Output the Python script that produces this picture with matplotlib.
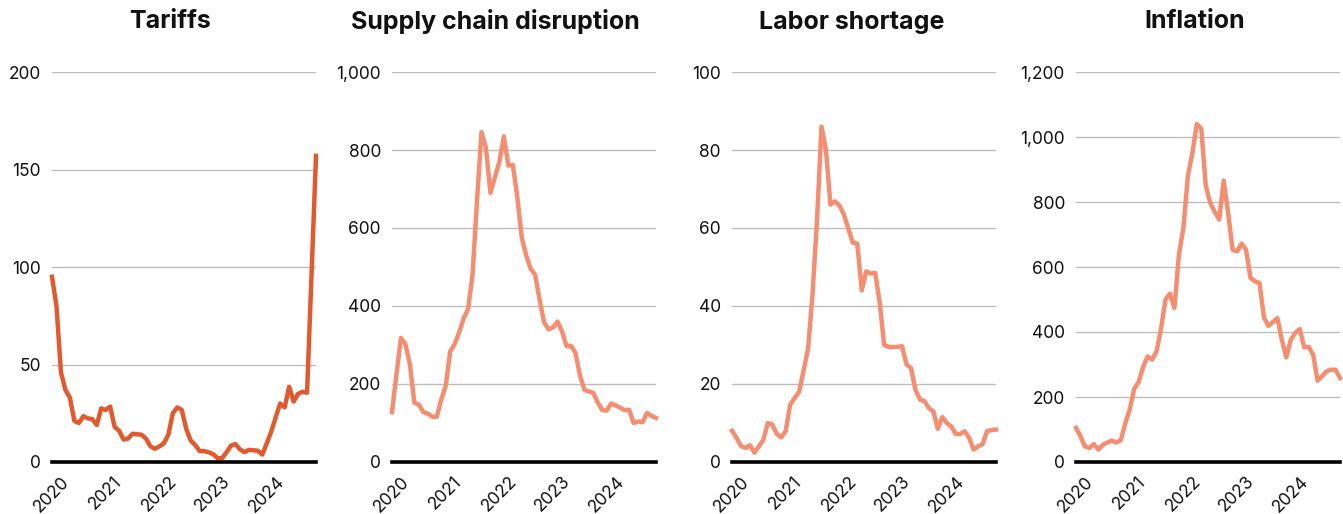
import matplotlib
matplotlib.use("Agg")
import matplotlib.pyplot as plt
from matplotlib.ticker import FuncFormatter

plt.rcParams['font.family'] = ['Inter', 'DejaVu Sans']

# monthly values, Jan 2020 .. Dec 2024
tariffs = [95, 80, 46, 37, 33, 21, 20, 23.5, 22.4, 22, 19, 27.5, 26.7, 28.4, 18, 16,
           11.5, 12, 14.5, 14.2, 14, 12, 8, 6.8, 8, 9.6, 14, 25, 28, 26.7, 17, 11,
           8.7, 5.6, 5.6, 5, 4, 2, 1.9, 5, 8.4, 9.2, 6.5, 5.1, 6.2, 6, 5.8, 3.8,
           9.6, 15.6, 23, 30, 28, 38.6, 31, 35, 36, 35.5, 96, 157]
supply_chain = [128, 225, 318, 302, 250, 152, 147, 128, 124, 116, 116, 160, 195, 283, 302, 332,
                368, 392, 480, 670, 846, 805, 690, 730, 770, 835, 760, 762, 680, 575, 530, 495,
                480, 415, 358, 340, 345, 360, 335, 297, 298, 280, 222, 185, 181, 177, 152, 133,
                132, 150, 145, 139, 133, 134, 100, 104, 102, 126, 118, 113]
labor = [8, 6.2, 4.1, 3.6, 4.3, 2.4, 4.0, 5.7, 10, 9.6, 7.2, 6.3, 7.9, 14.7, 16.4, 18,
         23.5, 29, 43, 62, 86, 80, 66, 66.8, 65.8, 63.5, 59.8, 56.2, 56, 44, 48.9, 48.3,
         48.5, 41, 30, 29.5, 29.5, 29.5, 29.7, 25, 24.1, 18.5, 16, 15.6, 13.8, 13, 8.5, 11.5,
         10, 9.1, 7.2, 7.2, 7.9, 6.2, 3.2, 4.0, 4.6, 7.9, 8.2, 8.3]
inflation = [105, 79, 48, 43, 55, 38, 53, 60, 66, 60, 67, 118, 162, 225, 246, 292,
             325, 315, 340, 410, 500, 518, 474, 638, 720, 880, 950, 1040, 1025, 850, 797, 770,
             746, 866, 766, 653, 648, 672, 653, 566, 556, 551, 445, 419, 430, 443, 376, 322,
             376, 397, 409, 353, 354, 330, 250, 264, 279, 284, 284, 258]

titles = ["Tariffs", "Supply chain disruption", "Labor shortage", "Inflation"]
series = [tariffs, supply_chain, labor, inflation]
colors = ["#E15A2E", "#F58D70", "#F58D70", "#F58D70"]
y_max = [200, 1000, 100, 1200]
y_step = [50, 200, 20, 200]
year_labels = ["2020", "2021", "2022", "2023", "2024"]

months = list(range(len(tariffs)))

W, H = 1343, 514
fig = plt.figure(figsize=(W / 100, H / 100), dpi=100)

lefts = [52, 392, 732, 1076]
title_x = [170, 495, 852, 1195]
width = 264
bottom_px, top_px = 462, 72

for i in range(4):
    ax = fig.add_axes([lefts[i] / W, (H - bottom_px) / H, width / W, (bottom_px - top_px) / H])
    ax.plot(months, series[i], color=colors[i], lw=3.2, solid_joinstyle='round', clip_on=False, zorder=3)
    ax.set_xlim(0, len(months) - 1)
    ax.set_ylim(0, y_max[i])
    ticks = list(range(0, y_max[i] + 1, y_step[i]))
    ax.set_yticks(ticks)
    ax.yaxis.set_major_formatter(FuncFormatter(lambda v, p: '{:,.0f}'.format(v)))
    ax.grid(axis='y', color='#BDBDBD', lw=1)
    ax.set_axisbelow(True)
    for s in ['top', 'right', 'left']:
        ax.spines[s].set_visible(False)
    ax.spines['bottom'].set_color('black')
    ax.spines['bottom'].set_linewidth(2.6)
    ax.spines['bottom'].set_zorder(4)
    ax.set_xticks([0, 12, 24, 36, 48])
    ax.set_xticklabels(year_labels, rotation=45, ha='center', va='top')
    ax.tick_params(axis='both', length=0, labelsize=12.5, colors='#111111')
    ax.tick_params(axis='y', pad=8)
    ax.tick_params(axis='x', pad=8)
    fig.text(title_x[i] / W, 1 - 22 / H, titles[i], ha='center', va='center',
             fontsize=18, fontweight='bold', color='#111111')

fig.savefig("out.png", dpi=100)
